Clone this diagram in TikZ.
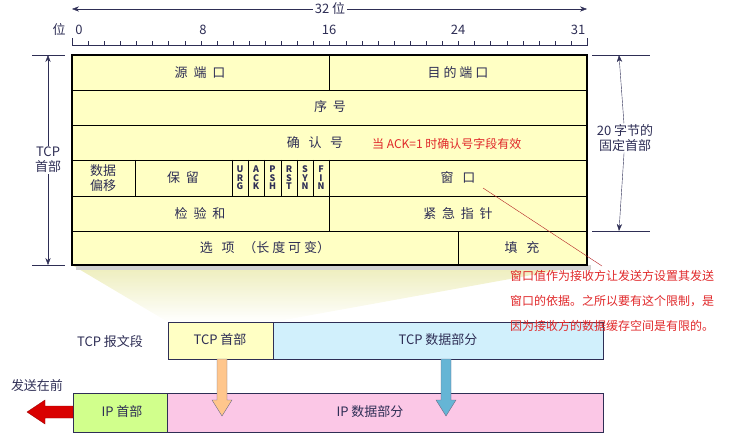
\documentclass[tikz,border=0pt]{standalone}
\usepackage{fontspec}
\setmainfont{Noto Sans CJK SC}
\usetikzlibrary{arrows.meta}
\definecolor{ink}{HTML}{2E2E55}
\definecolor{hdr}{HTML}{FFFFC4}
\definecolor{note}{HTML}{E0282A}
\tikzset{
  fieldtxt/.style = {font=\fontsize{13}{15}\selectfont, text=ink},
  flagtxt/.style = {font=\fontsize{9}{8.5}\selectfont\bfseries, text=ink, align=center, inner sep=0pt},
  notetxt/.style = {font=\fontsize{12}{14}\selectfont, text=note, anchor=west, inner sep=0pt},
  dim/.style = {-{Stealth[length=7pt]}, ink, thin}
}
\begin{document}
\begin{tikzpicture}[x=1pt, y=-1pt]
    \useasboundingbox (0,0) rectangle (742,441);
    % fade from header to segment
    \shade[top color=hdr!80!olive, bottom color=white, opacity=0.7] (72,265) -- (587,265) -- (273,322) -- (168,322) -- cycle;
    \fill[gray!35] (76,265) rectangle (591,270);
    % header rows
    \begin{scope}[fill=hdr, draw=black]
        \filldraw (72,55) rectangle (587,265);
        \draw (72,90) -- (587,90);
        \draw (72,125) -- (587,125);
        \draw (72,160) -- (587,160);
        \draw (72,196) -- (587,196);
        \draw (72,231) -- (587,231);
        \draw (329,55) -- (329,90);
        \draw (135,160) -- (135,196);
        \foreach \x in {232,248,264,281,297,313,329}
            \draw (\x,160) -- (\x,196);
        \draw (329,196) -- (329,231);
        \draw (458,231) -- (458,265);
    \end{scope}
    \draw[line width=1.6pt] (72,55) rectangle (587,265);
    % ruler
    \draw[ink] (72,38) -- (72,45) -- (587,45) -- (587,38);
    \foreach \i in {1,...,31}
        \draw[ink] ({72+\i*16.1},45) -- ({72+\i*16.1},41);
    \node[fieldtxt] (b0) at (79,30) {0};
    \node[fieldtxt] (b8) at (203,30) {8};
    \node[fieldtxt] (b16) at (329,30) {16};
    \node[fieldtxt] (b24) at (458,30) {24};
    \node[fieldtxt] (b31) at (578,30) {31};
    \node[fieldtxt] (wei) at (59,30) {位};
    \node[fieldtxt, fill=white, inner sep=2pt] (width) at (330,9) {32 位};
    \coordinate (wl) at (72,9);
    \coordinate (wr) at (587,9);
    \draw[dim] (width) -- (wl);
    \draw[dim] (width) -- (wr);
    % fields
    \node[fieldtxt] (sport) at (200,73) {源\ \ 端\ \ 口};
    \node[fieldtxt] (dport) at (458,73) {目\ 的\ 端\ 口};
    \node[fieldtxt] (seq) at (330,107) {序\ \ 号};
    \node[fieldtxt] (ack) at (315,143) {确\ \ \ 认\ \ \ 号};
    \node[notetxt] (acknote) at (372,144) {当 ACK=1 时确认号字段有效};
    \node[fieldtxt, align=left, inner sep=0pt] (off) at (103,178) {数据\\偏移};
    \node[fieldtxt] (rsv) at (183,178) {保\ \ 留};
    \node[flagtxt] (URG) at (240,178) {U\\R\\G};
    \node[flagtxt] (ACK) at (256,178) {A\\C\\K};
    \node[flagtxt] (PSH) at (272.5,178) {P\\S\\H};
    \node[flagtxt] (RST) at (289,178) {R\\S\\T};
    \node[flagtxt] (SYN) at (305,178) {S\\Y\\N};
    \node[flagtxt] (FIN) at (321,178) {F\\I\\N};
    \node[fieldtxt] (win) at (458,178) {窗\ \ \ 口};
    \node[fieldtxt] (csum) at (200,214) {检\ \ 验\ \ 和};
    \node[fieldtxt] (urg) at (458,214) {紧\ \ 急\ \ 指\ \ 针};
    \node[fieldtxt] (opt) at (265,248) {选\ \ \ 项\ \ \ （长\ 度\ 可\ 变）};
    \node[fieldtxt] (pad) at (522,248) {填\ \ \ 充};
    % left dimension
    \draw[ink] (32,55) -- (65,55);
    \draw[ink] (32,265) -- (65,265);
    \node[fieldtxt, align=center, fill=white, inner sep=1pt] (hlen) at (48,160) {TCP\\首部};
    \coordinate (ht) at (48,55);
    \coordinate (hb) at (48,265);
    \draw[dim] (hlen) -- (ht);
    \draw[dim] (hlen) -- (hb);
    % right dimension
    \draw[ink] (592,55) -- (650,55);
    \draw[ink] (592,231) -- (650,231);
    \node[fieldtxt, align=center, fill=white, inner sep=1pt] (flen) at (625,138) {20 字节的\\固定首部};
    \coordinate (ft) at (619,55);
    \coordinate (fb) at (619,231);
    \draw[dim] (flen) -- (ft);
    \draw[dim] (flen) -- (fb);
    % window note
    \coordinate (wtip) at (483,188);
    \coordinate (wend) at (602,266);
    \draw[note!80!black, thin] (wtip) -- (wend);
    % segment
    \filldraw[fill=hdr, draw=ink] (168,322) rectangle (273,359);
    \filldraw[fill=cyan!18, draw=ink] (273,322) rectangle (603,359);
    \node[fieldtxt] (th) at (220,340) {TCP 首部};
    \node[fieldtxt] (td) at (438,340) {TCP 数据部分};
    \node[fieldtxt] (seg) at (110,342) {TCP 报文段};
    \node[notetxt] (n1) at (510,276) {窗口值作为接收方让发送方设置其发送};
    \node[notetxt] (n2) at (510,301) {窗口的依据。之所以要有这个限制，是};
    \node[notetxt] (n3) at (510,326) {因为接收方的数据缓存空间是有限的。};
    % datagram
    \filldraw[fill=green!40!yellow!45, draw=ink] (73,393) rectangle (167,432);
    \filldraw[fill=magenta!22, draw=ink] (167,393) rectangle (603,432);
    \node[fieldtxt] (ih) at (122,412) {IP 首部};
    \node[fieldtxt] (id) at (370,412) {IP 数据部分};
    \node[fieldtxt] (first) at (37,386) {发送在前};
    \filldraw[fill=red!85!black, draw=red!60!black] (73,406) -- (45,406) -- (45,400) -- (27,412) -- (45,424) -- (45,418) -- (73,418) -- cycle;
    % down arrows
    \filldraw[fill=orange!45, draw=ink!70] (217,359) -- (227,359) -- (227,400) -- (232,400) -- (222,416) -- (212,400) -- (217,400) -- cycle;
    \filldraw[fill=cyan!55!teal!70, draw=ink!70] (441,359) -- (451,359) -- (451,400) -- (456,400) -- (446,416) -- (436,400) -- (441,400) -- cycle;
\end{tikzpicture}
\end{document}
